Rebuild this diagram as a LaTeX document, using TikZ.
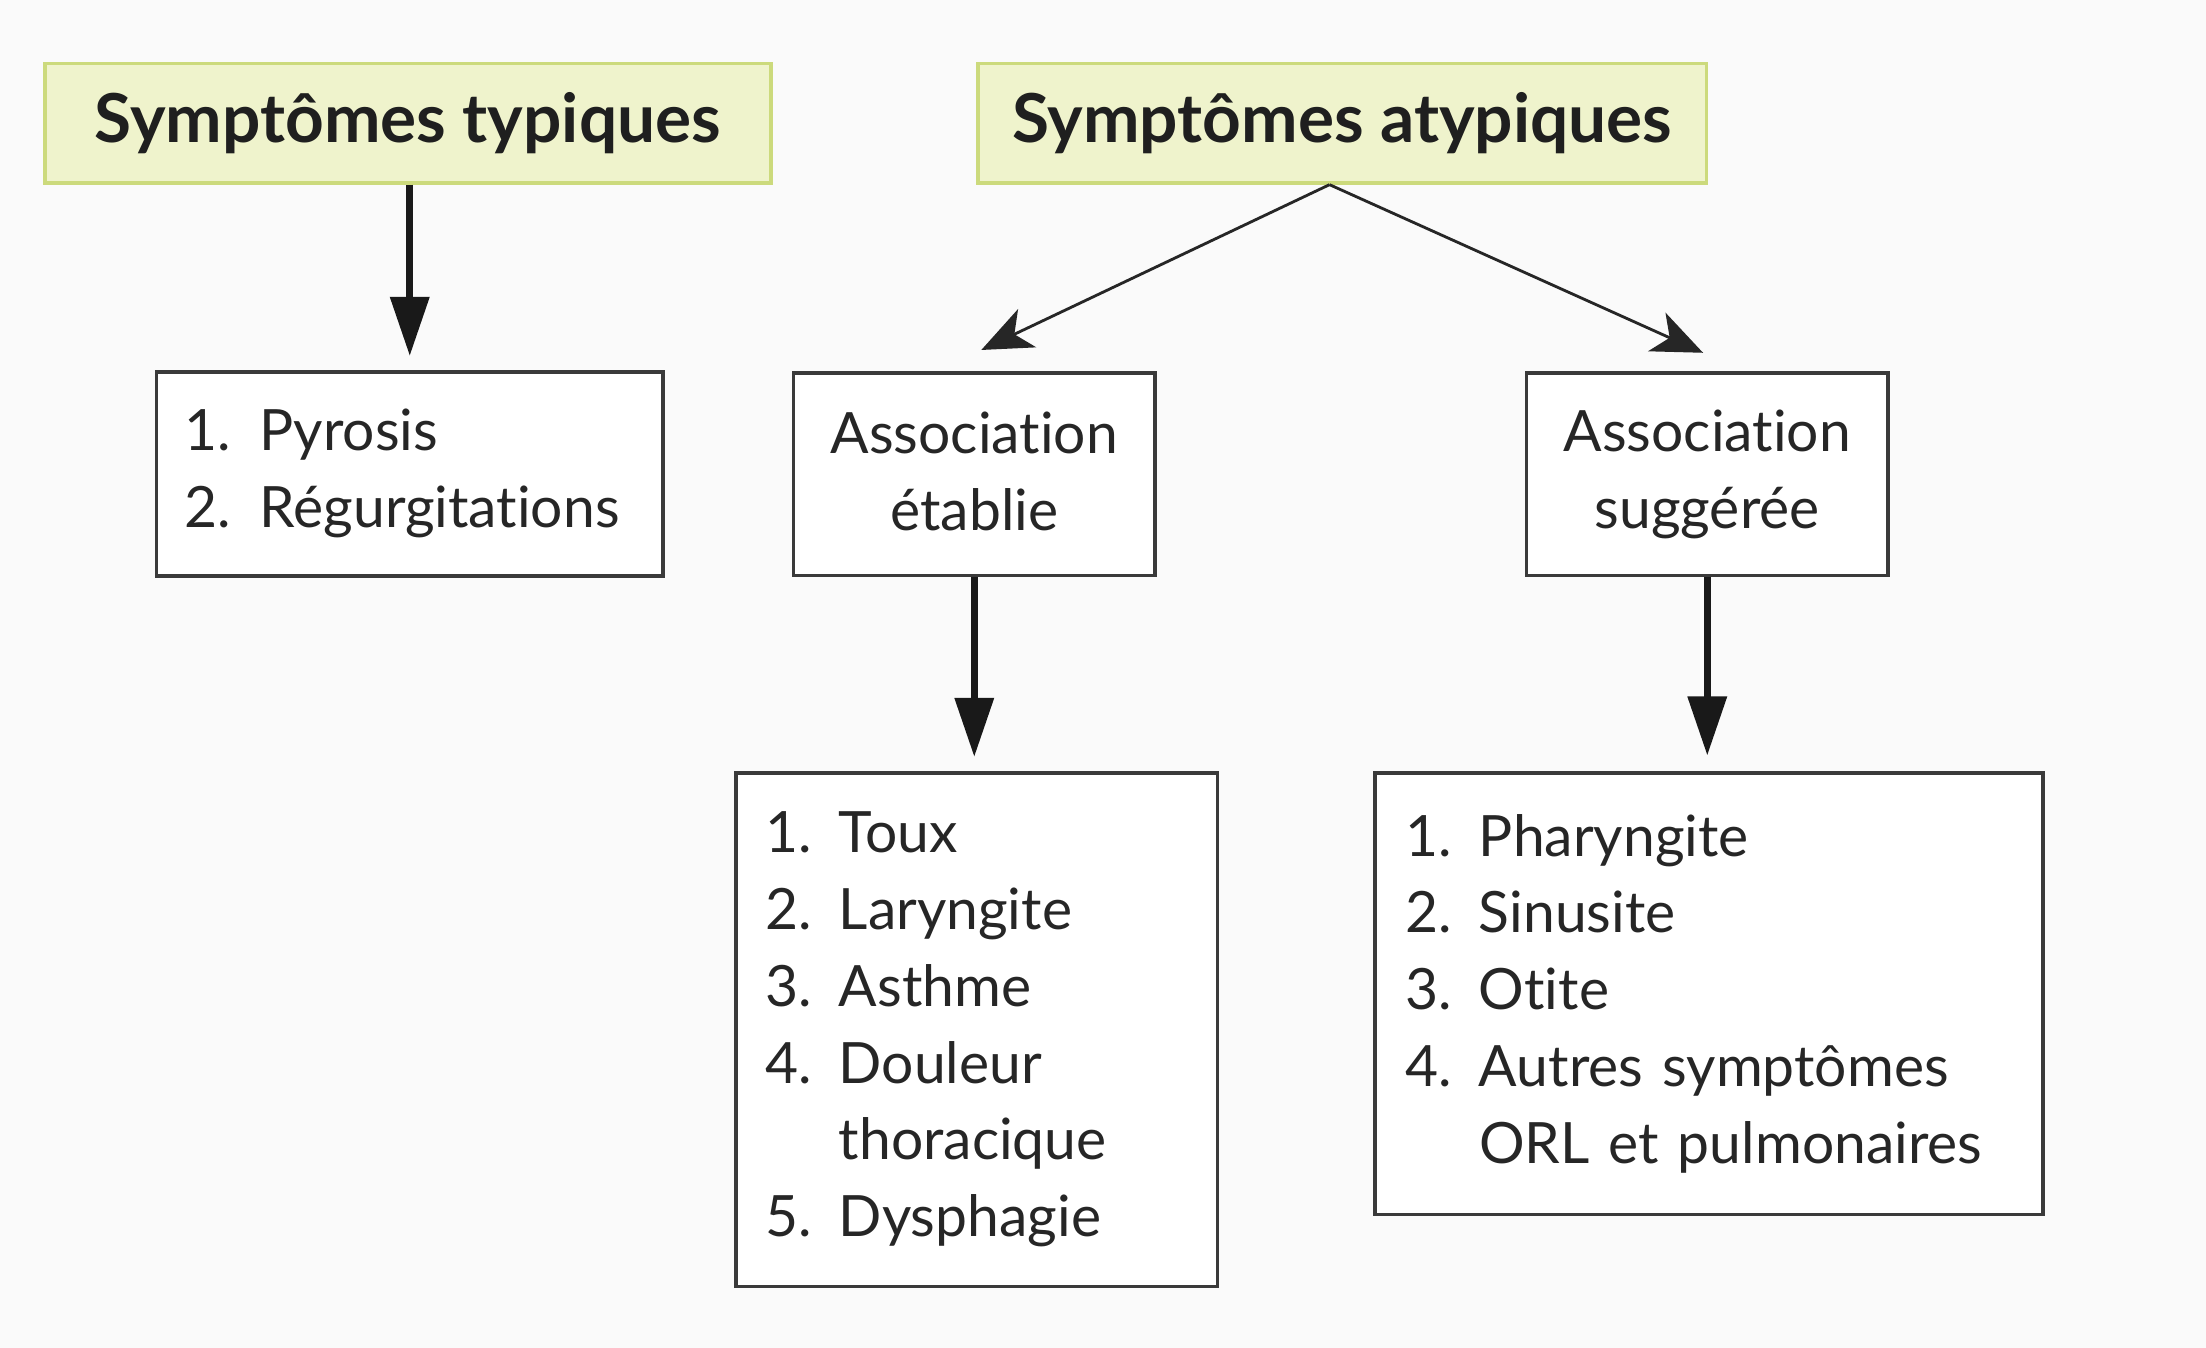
\documentclass[tikz,border=0pt]{standalone}
\usepackage{fontspec}
\setmainfont{Lato}[Ligatures=NoCommon]
\usetikzlibrary{arrows.meta}
\definecolor{hdrfill}{HTML}{EFF3CC}
\definecolor{hdrline}{HTML}{CCDA7C}
\definecolor{boxline}{HTML}{3A3A3A}
\definecolor{bg}{HTML}{FAFAFA}
\tikzset{
  hdr/.style={draw=hdrline, fill=hdrfill, line width=2.5pt, inner sep=0pt,
    font=\fontsize{48}{56}\selectfont\bfseries, text=black!88},
  plainbox/.style={draw=boxline, fill=white, line width=2.5pt, inner sep=0pt,
    font=\fontsize{40.5}{54.6}\selectfont, text=black!85},
  thickarrow/.style={line width=5pt, draw=black!90, -{Triangle[length=42pt,width=27pt]}},
  thinarrow/.style={line width=2pt, draw=black!85, -{Stealth[length=36pt,width=30pt,inset=10pt]}},
}
\newcommand{\numi}[1]{\makebox[52pt][l]{#1}}
\begin{document}
\begin{tikzpicture}[x=1pt,y=-1pt]
\useasboundingbox[fill=bg] (0,0) rectangle (1568,958);
% headers
\node[hdr, minimum width=516pt, minimum height=85pt] (h1) at (290,87.5) {Symptômes typiques};
\node[hdr, minimum width=518pt, minimum height=85pt] (h2) at (954,87.5) {Symptômes atypiques};
% level 2
\node[plainbox, anchor=north west, minimum height=145pt, text width=320pt, inner xsep=20pt, align=left] (pyro) at (110,263)
  {1. Pyrosis\\2. Régurgitations};
\node[plainbox, minimum width=257pt, minimum height=144pt, align=center] (est) at (692.5,337)
  {\raisebox{4pt}{Association}\\\raisebox{4pt}{établie}};
\node[plainbox, minimum width=257pt, minimum height=144pt, align=center] (sug) at (1213.5,337)
  {Association\\suggérée};
% level 3
\node[plainbox, anchor=north west, minimum height=365pt, text width=300pt, inner xsep=21pt, align=left] (toux) at (522,548)
  {\numi{1.}Toux\\\numi{2.}Laryngite\\\numi{3.}Asthme\\\numi{4.}Douleur\\\hspace*{52pt}thoracique\\\numi{5.}Dysphagie};
\node[plainbox, anchor=north west, minimum height=314pt, text width=431pt, inner xsep=22pt, align=left] (phar) at (976,548)
  {\numi{1.}Pharyngite\\\numi{2.}Sinusite\\\numi{3.}Otite\\\numi{4.}Autres symptômes\\\hspace*{52pt}ORL et pulmonaires};
% connectors
\draw[thickarrow, shorten >=10pt] (h1.south -| pyro.north) -- (pyro.north);
\coordinate (h2b) at ([xshift=-9pt]h2.south);
\draw[thinarrow] (h2b) -- ([shift={(5pt,15pt)}]est.north);
\draw[thinarrow] (h2b) -- ([shift={(-3pt,13pt)}]sug.north);
\draw[thickarrow, shorten >=10pt] (est.south) -- (est.south |- toux.north);
\draw[thickarrow, shorten >=11pt] (sug.south) -- (sug.south |- phar.north);
\end{tikzpicture}
\end{document}
